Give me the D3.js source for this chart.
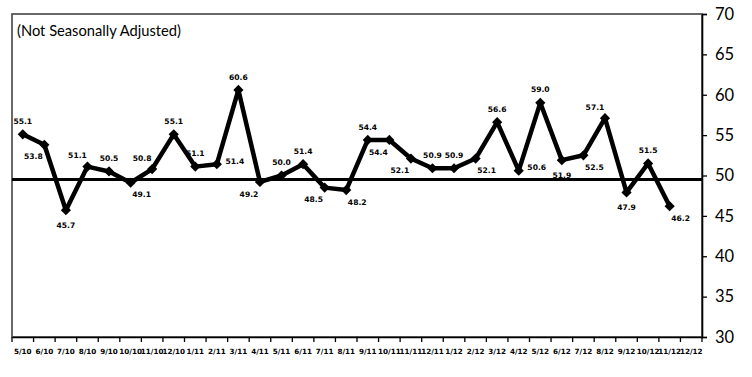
<!DOCTYPE html>
<html>
<head>
<meta charset="utf-8">
<script src="https://cdn.jsdelivr.net/npm/d3@7"></script>
<style>
  html, body { margin: 0; padding: 0; background: #fff; }
  svg { display: block; }
</style>
</head>
<body>
<svg id="chart" width="752" height="377"></svg>
<script>
// ---- data ----
const months = ["5/10","6/10","7/10","8/10","9/10","10/10","11/10","12/10","1/11","2/11","3/11","4/11","5/11","6/11","7/11","8/11","9/11","10/11","11/11","12/11","1/12","2/12","3/12","4/12","5/12","6/12","7/12","8/12","9/12","10/12","11/12","12/12"];
const values = [55.1,53.8,45.7,51.1,50.5,49.1,50.8,55.1,51.1,51.4,60.6,49.2,50.0,51.4,48.5,48.2,54.4,54.4,52.1,50.9,50.9,52.1,56.6,50.6,59.0,51.9,52.5,57.1,47.9,51.5,46.2];
const yTicks = [30,35,40,45,50,55,60,65,70];
const referenceLevel = 49.5;
const titleText = "(Not Seasonally Adjusted)";
// label placement keywords (a=above, b=below, al=above-left, bl=below-left, br=below-right, r=right)
const labelPlacement = ["a","bl","b","al","a","br","al","a","a","r","a","bl","a","a","bl","br","a","bl","bl","a","a","br","a","r","a","b","br","al","b","a","br"];

// ---- layout ----
const W = 752, H = 377;
const m = {left: 12, top: 14, right: 50, bottom: 40};
const x0 = m.left, x1 = W - m.right, y0 = m.top, y1 = H - m.bottom;
const offsets = {a:[0,-13], b:[0,15], al:[-10,-11], bl:[-11,12], br:[11,12], r:[18,-3]};

const svg = d3.select("#chart");

const x = d3.scaleBand().domain(months).range([x0, x1]).padding(0);
const y = d3.scaleLinear().domain([30, 70]).range([y1, y0]);
const cx = d => x(d) + x.bandwidth() / 2;

// frame
svg.append("rect")
  .attr("x", x0).attr("y", y0)
  .attr("width", x1 - x0).attr("height", y1 - y0)
  .attr("fill", "none").attr("stroke", "#444").attr("stroke-width", 1.6);

// title
svg.append("text")
  .attr("x", 17).attr("y", 36)
  .attr("font-family", "Lato, 'Open Sans', sans-serif")
  .attr("font-size", 14.7)
  .attr("fill", "#000")
  .text(titleText);

// right y axis
const yAxis = d3.axisRight(y).tickValues(yTicks).tickSize(5).tickPadding(8).tickFormat(d3.format("d"));
const gy = svg.append("g").attr("transform", `translate(${x1},0)`).call(yAxis);
gy.select(".domain").attr("stroke", "#000").attr("stroke-width", 1.6);
gy.selectAll(".tick line").attr("stroke", "#000").attr("stroke-width", 1.3);
gy.selectAll(".tick text")
  .attr("font-family", "Lato, 'Open Sans', sans-serif")
  .attr("font-size", 16.5).attr("fill", "#000");

// bottom axis
const xAxis = d3.axisBottom(x).tickSize(0).tickPadding(12);
const gx = svg.append("g").attr("transform", `translate(0,${y1})`).call(xAxis);
gx.select(".domain").attr("stroke", "#000").attr("stroke-width", 1.6);
gx.selectAll(".tick text")
  .attr("font-family", "'DejaVu Sans', Verdana, sans-serif")
  .attr("font-weight", "bold")
  .attr("font-size", 7.2).attr("fill", "#000");
// tick marks at category boundaries
const edges = months.map(d => x(d)).concat([x1]);
svg.append("g").selectAll("line").data(edges).join("line")
  .attr("x1", d => d).attr("x2", d => d)
  .attr("y1", y1).attr("y2", y1 + 5)
  .attr("stroke", "#000").attr("stroke-width", 1.3);

// reference line
svg.append("line")
  .attr("x1", x0).attr("x2", x1)
  .attr("y1", y(referenceLevel)).attr("y2", y(referenceLevel))
  .attr("stroke", "#000").attr("stroke-width", 3);

// series
const pts = values.map((v, i) => ({m: months[i], v, p: labelPlacement[i]}));
const line = d3.line().x(d => cx(d.m)).y(d => y(d.v)).curve(d3.curveLinear);
svg.append("path").datum(pts)
  .attr("d", line)
  .attr("fill", "none").attr("stroke", "#000")
  .attr("stroke-width", 4.5).attr("stroke-linejoin", "round");

const sym = d3.symbol().type(d3.symbolSquare).size(52);
svg.append("g").selectAll("path").data(pts).join("path")
  .attr("d", sym)
  .attr("transform", d => `translate(${cx(d.m)},${y(d.v)}) rotate(45)`)
  .attr("fill", "#000");

// data labels
svg.append("g").selectAll("text").data(pts).join("text")
  .attr("x", d => cx(d.m) + offsets[d.p][0])
  .attr("y", d => y(d.v) + offsets[d.p][1])
  .attr("dy", "0.35em")
  .attr("text-anchor", "middle")
  .attr("font-family", "'DejaVu Sans', Verdana, sans-serif")
  .attr("font-weight", "bold")
  .attr("font-size", 7.6)
  .attr("fill", "#000")
  .text(d => d3.format(".1f")(d.v));
</script>
</body>
</html>
